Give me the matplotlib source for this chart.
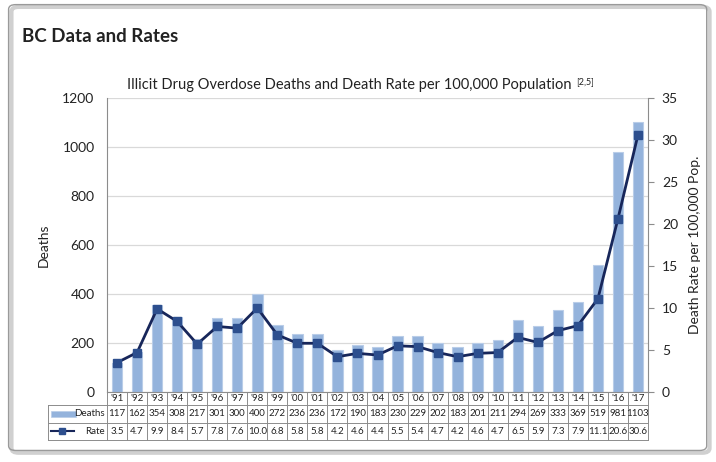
import numpy as np
import matplotlib
matplotlib.use("Agg")
from matplotlib import pyplot as plt
from matplotlib import transforms
from matplotlib.patches import FancyBboxPatch, Rectangle
from matplotlib.lines import Line2D

plt.rcParams['font.family'] = ['Lato', 'DejaVu Sans']

years = ["'91", "'92", "'93", "'94", "'95", "'96", "'97", "'98", "'99", "'00",
         "'01", "'02", "'03", "'04", "'05", "'06", "'07", "'08", "'09", "'10",
         "'11", "'12", "'13", "'14", "'15", "'16", "'17"]
deaths = [117, 162, 354, 308, 217, 301, 300, 400, 272, 236, 236, 172, 190, 183,
          230, 229, 202, 183, 201, 211, 294, 269, 333, 369, 519, 981, 1103]
rate = [3.5, 4.7, 9.9, 8.4, 5.7, 7.8, 7.6, 10.0, 6.8, 5.8, 5.8, 4.2, 4.6, 4.4,
        5.5, 5.4, 4.7, 4.2, 4.6, 4.7, 6.5, 5.9, 7.3, 7.9, 11.1, 20.6, 30.6]

bar_col = '#94B3DC'
bar_edge = '#B9CDE8'
line_col = '#17265A'
mark_col = '#2D4F8E'
txt = '#222222'

fig = plt.figure(figsize=(7.16, 4.62), dpi=100)
fig.patch.set_facecolor('white')

# outer frame with soft shadow
fig.patches.append(FancyBboxPatch((0.016, 0.02), 0.975, 0.965, boxstyle="round,pad=0,rounding_size=0.01",
                                  transform=fig.transFigure, facecolor='none', edgecolor='#d0d0d0', lw=3))
fig.patches.append(FancyBboxPatch((0.012, 0.025), 0.975, 0.965, boxstyle="round,pad=0,rounding_size=0.01",
                                  transform=fig.transFigure, facecolor='none', edgecolor='#9a9a9a', lw=1))

fig.text(0.031, 0.91, "BC Data and Rates", fontsize=13.5, fontweight='bold', color=txt)

ax = fig.add_axes([0.1495, 0.1515, 0.7555, 0.6365])
ax2 = ax.twinx()
x = np.arange(len(years))

ax.bar(x, deaths, width=0.52, color=bar_col, edgecolor=bar_edge, lw=0.8, zorder=2)
ax.set_ylim(0, 1200)
ax.set_xlim(-0.5, len(years) - 0.5)
ax.set_yticks(range(0, 1201, 200))
ax.grid(axis='y', color='#d9d9d9', lw=0.9, zorder=0)
ax.set_axisbelow(True)
ax.tick_params(axis='y', length=0, labelsize=10, colors=txt, pad=9)
ax.set_xticks([])
ax.set_ylabel("Deaths", fontsize=10, color=txt, labelpad=9)
for s in ['top', 'right']:
    ax.spines[s].set_visible(False)
ax.spines['left'].set_color('#8c8c8c')
ax.spines['bottom'].set_color('#8c8c8c')

ax2.plot(x, rate, color=line_col, lw=2, marker='s', markersize=6,
         markerfacecolor=mark_col, markeredgecolor=mark_col, zorder=3)
ax2.set_ylim(0, 35)
ax2.set_yticks(range(0, 36, 5))
ax2.tick_params(axis='y', length=4, labelsize=10, colors=txt, pad=6, color='#8c8c8c')
ax2.set_ylabel("Death Rate per 100,000 Pop.", fontsize=10, color=txt, labelpad=8)
for s in ['top', 'left', 'bottom']:
    ax2.spines[s].set_visible(False)
ax2.spines['right'].set_color('#8c8c8c')

title = fig.text(0.488, 0.807, "Illicit Drug Overdose Deaths and Death Rate per 100,000 Population",
                 fontsize=10.5, color=txt, ha='center', va='baseline')
ax.annotate("[2,5]", xy=(1, 1), xycoords=title, xytext=(3, 1), textcoords='offset points',
            fontsize=6.5, color=txt, ha='left', va='top', annotation_clip=False)

# data table below the axis
tr = transforms.blended_transform_factory(ax.transData, ax.transAxes)
rows_y = [0, -0.044, -0.105, -0.163]
grid_c = '#8c8c8c'
left = -3.45
n = len(years)
for i in range(n + 1):
    ax.add_line(Line2D([i - 0.5, i - 0.5], [rows_y[0], rows_y[3]], transform=tr,
                       color=grid_c, lw=0.7, clip_on=False))
for yy in rows_y[1:]:
    ax.add_line(Line2D([left, n - 0.5], [yy, yy], transform=tr, color=grid_c, lw=0.7, clip_on=False))
ax.add_line(Line2D([left, left], [rows_y[1], rows_y[3]], transform=tr, color=grid_c, lw=0.7, clip_on=False))

for i in range(n):
    ax.text(i, (rows_y[0] + rows_y[1]) / 2, years[i], transform=tr, ha='center', va='center',
            fontsize=7, color=txt)
    ax.text(i, (rows_y[1] + rows_y[2]) / 2, str(deaths[i]), transform=tr, ha='center', va='center',
            fontsize=7, color=txt)
    ax.text(i, (rows_y[2] + rows_y[3]) / 2, str(rate[i]), transform=tr, ha='center', va='center',
            fontsize=7, color=txt)

yd = (rows_y[1] + rows_y[2]) / 2
yr = (rows_y[2] + rows_y[3]) / 2
ax.add_patch(Rectangle((left + 0.15, yd - 0.01), 1.25, 0.02, transform=tr, facecolor=bar_col,
                       edgecolor=bar_edge, lw=0.5, clip_on=False))
ax.text(-0.6, yd, "Deaths", transform=tr, ha='right', va='center', fontsize=7, color=txt)
ax.add_line(Line2D([left + 0.15, left + 1.3], [yr, yr], transform=tr, color=line_col, lw=1.5,
                   clip_on=False))
ax.add_line(Line2D([left + 0.72], [yr], transform=tr, marker='s', markersize=4, color=mark_col,
                   clip_on=False))
ax.text(-0.6, yr, "Rate", transform=tr, ha='right', va='center', fontsize=7, color=txt)

fig.savefig("out.png", dpi=100)
